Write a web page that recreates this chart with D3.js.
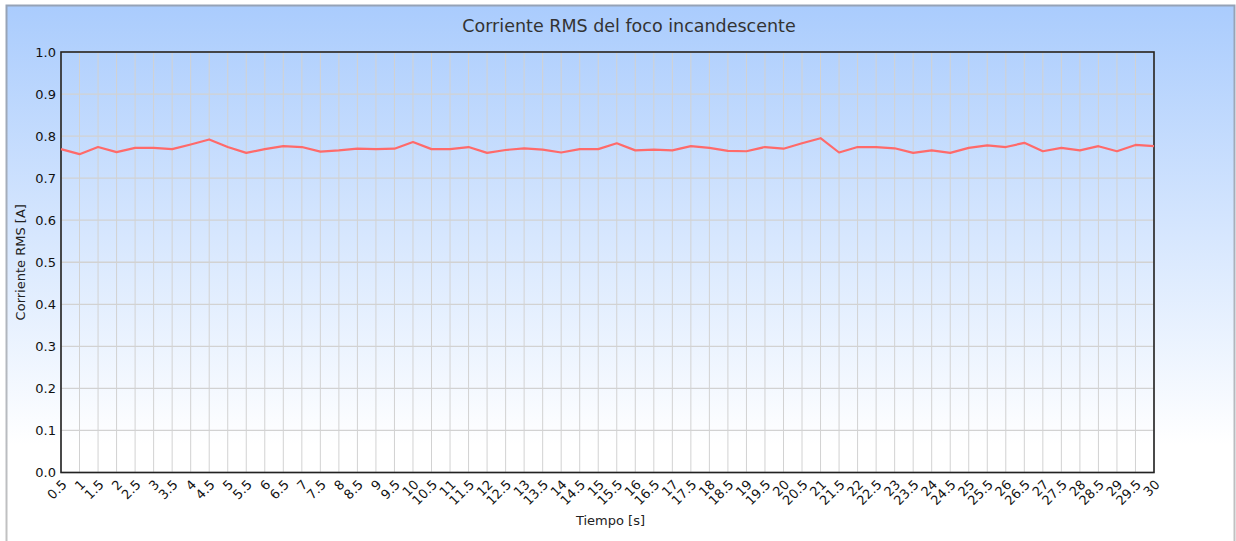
<!DOCTYPE html>
<html>
<head>
<meta charset="utf-8">
<script src="https://cdn.jsdelivr.net/npm/d3@7"></script>
<style>
  html, body { margin: 0; padding: 0; background: #ffffff; }
  svg { display: block; font-family: "DejaVu Sans", sans-serif; }
</style>
</head>
<body>
<svg id="chart" width="1236" height="541"></svg>
<script>
// Time stamps in seconds (category labels)
const tiempos = ["0.5","1","1.5","2","2.5","3","3.5","4","4.5","5","5.5","6","6.5","7","7.5","8","8.5","9","9.5","10",
  "10.5","11","11.5","12","12.5","13","13.5","14","14.5","15","15.5","16","16.5","17","17.5","18","18.5","19","19.5","20",
  "20.5","21","21.5","22","22.5","23","23.5","24","24.5","25","25.5","26","26.5","27","27.5","28","28.5","29","29.5","30"];

// RMS current of the incandescent bulb, in amperes
const corrienteRMS = [0.769,0.757,0.774,0.762,0.772,0.772,0.769,0.780,0.792,0.774,0.760,0.769,0.776,0.774,0.763,0.766,0.770,0.769,0.770,0.786,
  0.769,0.769,0.774,0.760,0.767,0.771,0.768,0.761,0.769,0.769,0.783,0.766,0.768,0.766,0.776,0.772,0.765,0.764,0.774,0.770,
  0.783,0.795,0.761,0.774,0.774,0.771,0.760,0.766,0.760,0.772,0.778,0.774,0.784,0.764,0.772,0.766,0.776,0.764,0.779,0.776];

const yTicks = [0,0.1,0.2,0.3,0.4,0.5,0.6,0.7,0.8,0.9,1.0];

const titulo = "Corriente RMS del foco incandescente";
const ejeX = "Tiempo [s]";
const ejeY = "Corriente RMS [A]";

const svg = d3.select("#chart");
const W = 1236, H = 541;
const m = { left: 61, right: 1154, top: 52, bottom: 472.5 };

// Background gradient panel
const defs = svg.append("defs");
const bg = defs.append("linearGradient").attr("id", "bg")
  .attr("gradientUnits", "userSpaceOnUse")
  .attr("x1", 0).attr("y1", 6).attr("x2", 0).attr("y2", 445);
bg.append("stop").attr("offset", "0%").attr("stop-color", "#aaccfd");
bg.append("stop").attr("offset", "100%").attr("stop-color", "#ffffff");

const frameStroke = defs.append("linearGradient").attr("id", "frame")
  .attr("gradientUnits", "userSpaceOnUse")
  .attr("x1", 0).attr("y1", 0).attr("x2", 0).attr("y2", 541);
frameStroke.append("stop").attr("offset", "0%").attr("stop-color", "#95a2b6");
frameStroke.append("stop").attr("offset", "100%").attr("stop-color", "#c2c2c2");

svg.append("rect")
  .attr("x", 6.5).attr("y", 5.5).attr("width", 1228).attr("height", 560)
  .attr("fill", "url(#bg)")
  .attr("stroke", "url(#frame)").attr("stroke-width", 2);

const x = d3.scalePoint().domain(tiempos).range([m.left, m.right]).padding(0);
const y = d3.scaleLinear().domain([0, 1]).range([m.bottom, m.top]);

// Grid
const grid = svg.append("g").attr("class", "grid");
grid.selectAll("line.v").data(tiempos).join("line")
  .attr("x1", d => x(d)).attr("x2", d => x(d))
  .attr("y1", m.top).attr("y2", m.bottom)
  .attr("stroke", "#d2d2d2").attr("stroke-width", 1);
grid.selectAll("line.h").data(yTicks).join("line")
  .attr("x1", m.left).attr("x2", m.right)
  .attr("y1", d => y(d)).attr("y2", d => y(d))
  .attr("stroke", "#d2d2d2").attr("stroke-width", 1.3);

// Y axis
const yAxis = svg.append("g")
  .attr("transform", `translate(${m.left},0)`)
  .call(d3.axisLeft(y).tickValues(yTicks).tickFormat(d3.format(".1f")).tickSize(0).tickPadding(5));
yAxis.select(".domain").remove();
yAxis.selectAll("text").attr("font-size", 13).attr("fill", "#111").attr("font-family", "DejaVu Sans");

// X axis labels, rotated
const xAxis = svg.append("g")
  .attr("transform", `translate(0,${m.bottom})`)
  .call(d3.axisBottom(x).tickSize(0).tickPadding(0));
xAxis.select(".domain").remove();
xAxis.selectAll("text")
  .attr("font-size", 13).attr("fill", "#111").attr("font-family", "DejaVu Sans")
  .attr("text-anchor", "end")
  .attr("dy", "0")
  .attr("y", 0)
  .attr("transform", "translate(6,13) rotate(-45)");

// Plot frame
svg.append("rect")
  .attr("x", m.left).attr("y", m.top)
  .attr("width", m.right - m.left).attr("height", m.bottom - m.top)
  .attr("fill", "none").attr("stroke", "#222").attr("stroke-width", 1.6);

// Series line
svg.append("path")
  .datum(corrienteRMS)
  .attr("fill", "none")
  .attr("stroke", "#ff6a6a")
  .attr("stroke-width", 2.2)
  .attr("stroke-linejoin", "round")
  .attr("d", d3.line().x((d, i) => x(tiempos[i])).y(d => y(d)));

// Titles
svg.append("text")
  .attr("x", 629).attr("y", 32)
  .attr("text-anchor", "middle")
  .attr("font-size", 17.5).attr("fill", "#333")
  .text(titulo);

svg.append("text")
  .attr("x", (m.left + m.right) / 2 + 3).attr("y", 525)
  .attr("text-anchor", "middle")
  .attr("font-size", 13).attr("fill", "#222")
  .text(ejeX);

svg.append("text")
  .attr("transform", `translate(25,${(m.top + m.bottom) / 2}) rotate(-90)`)
  .attr("text-anchor", "middle")
  .attr("font-size", 13).attr("fill", "#222")
  .text(ejeY);
</script>
</body>
</html>
